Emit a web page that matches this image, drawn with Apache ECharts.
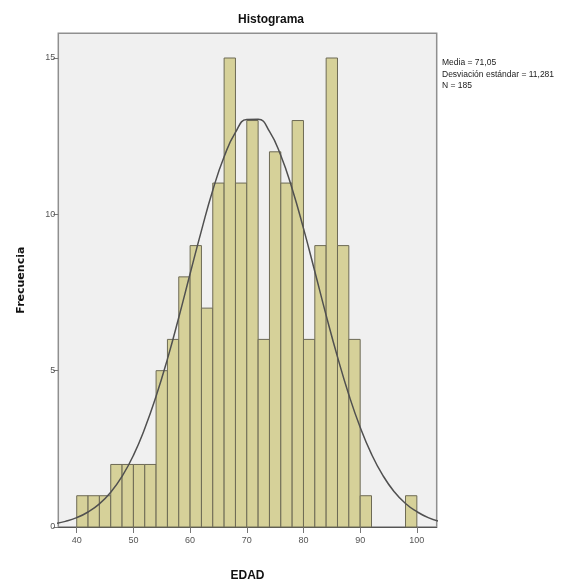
<!DOCTYPE html>
<html>
<head>
<meta charset="utf-8">
<script src="https://cdn.jsdelivr.net/npm/echarts@6/dist/echarts.min.js"></script>
<style>
  html, body { margin: 0; padding: 0; background: #fff; }
  #chart { width: 574px; height: 587px; }
</style>
</head>
<body>
<div id="chart"></div>
<script>
// histogram bins (2-year width), start of each bin
const binStart = [40, 42, 44, 46, 48, 50, 52, 54, 56, 58, 60, 62, 64, 66, 68, 70, 72, 74, 76, 78, 80, 82, 84, 86, 88, 90, 92, 94, 96, 98]
const counts = [1, 1, 1, 2, 2, 2, 2, 5, 6, 8, 9, 7, 11, 15, 11, 13, 6, 12, 11, 13, 6, 9, 15, 9, 6, 1, 0, 0, 0, 1]
const binWidth = 2

// normal curve as drawn in the picture
const curveX = [36, 38, 40, 42, 44, 46, 48, 50, 52, 54, 56, 58, 60, 62, 64, 66, 68, 70, 72, 74, 76, 78, 80, 82, 84, 86, 88, 90, 92, 94, 96, 98, 100, 102, 104]
const curveY = [0.10, 0.18, 0.30, 0.48, 0.74, 1.11, 1.62, 2.29, 3.15, 4.18, 5.37, 6.70, 8.10, 9.48, 10.77, 11.84, 12.62, 13.03, 13.04, 12.65, 11.88, 10.82, 9.55, 8.17, 6.77, 5.44, 4.23, 3.19, 2.33, 1.65, 1.13, 0.75, 0.49, 0.30, 0.18]

const xTicks = [40, 50, 60, 70, 80, 90, 100]
const yTicks = [0, 5, 10, 15]
const statsLines = ['Media = 71,05', 'Desviación estándar = 11,281', 'N = 185']

const chart = echarts.init(document.getElementById('chart'))

const option = {
  backgroundColor: '#ffffff',
  animation: false,
  title: {
    text: 'Histograma',
    left: 266,
    textAlign: 'center',
    top: 9,
    textStyle: { fontFamily: 'Liberation Sans', fontSize: 12, fontWeight: 'bold', color: '#111' }
  },
  graphic: [
    {
      type: 'text',
      left: 442,
      top: 57,
      style: {
        text: statsLines.join('\n'),
        fontFamily: 'Liberation Sans',
        fontSize: 8.5,
        lineHeight: 11.5,
        fill: '#222'
      }
    }
  ],
  grid: {
    left: 58.3,
    top: 33.3,
    width: 378.4,
    height: 500,
    show: true,
    backgroundColor: '#f0f0f0',
    borderColor: '#8f8f8f',
    borderWidth: 1.5
  },
  xAxis: {
    type: 'value',
    min: 36.75,
    max: 103.5,
    name: 'EDAD',
    nameLocation: 'middle',
    nameGap: 43,
    nameTextStyle: { fontFamily: 'Liberation Sans', fontSize: 12, fontWeight: 'bold', color: '#111' },
    axisLine: { show: true, lineStyle: { color: '#555', width: 1 } },
    axisTick: { show: true, customValues: xTicks, length: 6, lineStyle: { color: '#777' } },
    axisLabel: { customValues: xTicks, margin: 9, fontFamily: 'Liberation Sans', fontSize: 9, color: '#555' },
    splitLine: { show: false }
  },
  yAxis: {
    type: 'value',
    min: 0,
    max: 15.79,
    name: 'Frecuencia',
    nameLocation: 'middle',
    nameGap: 32,
    nameTextStyle: { fontFamily: 'DejaVu Sans', fontSize: 11, fontWeight: 'bold', color: '#111' },
    axisLine: { show: false },
    axisTick: { show: true, customValues: yTicks, length: 5, lineStyle: { color: '#777' } },
    axisLabel: { customValues: yTicks, margin: 3, fontFamily: 'Liberation Sans', fontSize: 9, color: '#555' },
    splitLine: { show: false }
  },
  series: [
    {
      name: 'Frecuencia',
      type: 'custom',
      data: binStart.map((s, i) => [s, counts[i]]),
      renderItem: (params, api) => {
        const start = api.value(0)
        const count = api.value(1)
        if (!count) return
        const topLeft = api.coord([start, count])
        const bottomRight = api.coord([start + binWidth, 0])
        return {
          type: 'rect',
          shape: {
            x: topLeft[0],
            y: topLeft[1],
            width: bottomRight[0] - topLeft[0],
            height: bottomRight[1] - topLeft[1]
          },
          style: { fill: '#d6d199', stroke: '#6d6a55', lineWidth: 1 }
        }
      }
    },
    {
      name: 'Normal',
      type: 'line',
      smooth: true,
      symbol: 'none',
      clip: true,
      lineStyle: { color: '#505050', width: 1.5 },
      data: curveX.map((x, i) => [x, curveY[i]])
    }
  ]
}

chart.setOption(option)
</script>
</body>
</html>
